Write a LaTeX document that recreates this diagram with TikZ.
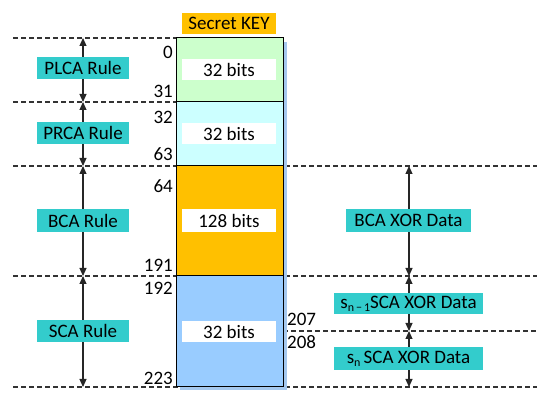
\documentclass[tikz,border=0pt]{standalone}
\usepackage{fontspec}
\setmainfont{Carlito}
\usetikzlibrary{arrows.meta}
\definecolor{teal1}{RGB}{51,204,204}
\definecolor{gold1}{RGB}{255,192,0}
\definecolor{green1}{RGB}{204,255,204}
\definecolor{cyan1}{RGB}{204,255,255}
\definecolor{blue1}{RGB}{153,204,255}
\definecolor{shadow1}{RGB}{165,200,238}
\newcommand{\fs}{\fontsize{19}{21}\selectfont}
\tikzset{
  lbl/.style={fill=teal1, draw=none, inner sep=0pt, minimum height=22pt, font=\fs},
  wbox/.style={fill=white, draw=none, inner sep=0pt, minimum width=94pt, minimum height=21pt, font=\fs},
  row/.style={draw=black, line width=1pt, minimum width=107pt, inner sep=0pt},
  num/.style={inner sep=0pt, font=\fs},
  dline/.style={dashed, dash pattern=on 4.5pt off 3.5pt, line width=1.2pt, black!80},
  darr/.style={{Triangle[width=7pt,length=8pt]}-{Triangle[width=7pt,length=8pt]}, line width=1.1pt, black!85},
}
\begin{document}
\begin{tikzpicture}[x=1pt,y=-1pt]
\useasboundingbox (0,0) rectangle (550,395);
% dashed guide lines
\coordinate (d0a) at (13,38);  \coordinate (d0b) at (176,38);
\coordinate (d1a) at (13,102); \coordinate (d1b) at (176,102);
\coordinate (d2a) at (13,166); \coordinate (d2b) at (537,166);
\coordinate (d3a) at (13,276); \coordinate (d3b) at (537,276);
\coordinate (d4a) at (13,387); \coordinate (d4b) at (537,387);
\coordinate (d5a) at (283,331); \coordinate (d5b) at (537,331);
\draw[dline] (d0a) -- (d0b);
\draw[dline] (d1a) -- (d1b);
\draw[dline] (d2a) -- (d2b);
\draw[dline] (d3a) -- (d3b);
\draw[dline] (d4a) -- (d4b);
\draw[dline] (d5a) -- (d5b);
% shadow
\fill[shadow1] (180,42) rectangle (286.5,390);
% key rows
\node[row, fill=green1, minimum height=64pt] (r1) at (229.5,70) {};
\node[row, fill=cyan1, minimum height=64pt] (r2) at (229.5,134) {};
\node[row, fill=gold1, minimum height=110pt] (r3) at (229.5,221) {};
\node[row, fill=blue1, minimum height=111pt] (r4) at (229.5,331.5) {};
\node[wbox] (b1) at (229,69.5) {32 bits};
\node[wbox] (b2) at (229,133.5) {32 bits};
\node[wbox, minimum height=23pt] (b3) at (229,220.5) {128 bits};
\node[wbox] (b4) at (229,331.5) {32 bits};
\node[fill=gold1, inner sep=0pt, minimum width=94pt, minimum height=21pt, font=\fs] (title) at (229,23.5) {Secret KEY};
% numbers
\node[num, anchor=east] (n0) at (173,52) {0};
\node[num, anchor=east] (n31) at (173,91.5) {31};
\node[num, anchor=east] (n32) at (173,117) {32};
\node[num, anchor=east] (n63) at (173,154.5) {63};
\node[num, anchor=east] (n64) at (173,186) {64};
\node[num, anchor=east] (n191) at (173,265) {191};
\node[num, anchor=east] (n192) at (173,288.5) {192};
\node[num, anchor=east] (n223) at (173,378) {223};
\node[num, anchor=west] (n207) at (287,319.5) {207};
\node[num, anchor=west] (n208) at (287,342) {208};
% left arrows
\coordinate (la0) at (83,38);
\coordinate (la1) at (83,102);
\coordinate (la2) at (83,166);
\coordinate (la3) at (83,276);
\coordinate (la4) at (83,387);
\draw[darr] (la0) -- (la1);
\draw[darr] (la1) -- (la2);
\draw[darr] (la2) -- (la3);
\draw[darr] (la3) -- (la4);
\node[lbl, minimum width=92pt] (plca) at (83,68) {PLCA Rule};
\node[lbl, minimum width=92pt] (prca) at (83,133) {PRCA Rule};
\node[lbl, minimum width=92pt, minimum height=23pt] (bca) at (83,220.5) {BCA Rule};
\node[lbl, minimum width=92pt] (sca) at (83,331) {SCA Rule};
% right arrows
\coordinate (ra0) at (409,166);
\coordinate (ra1) at (409,276);
\coordinate (ra2) at (409,331);
\coordinate (ra3) at (409,387);
\draw[darr] (ra0) -- (ra1);
\draw[darr] (ra1) -- (ra2);
\draw[darr] (ra2) -- (ra3);
\node[lbl, minimum width=125pt, minimum height=23pt] (bcax) at (408.5,220.5) {BCA XOR Data};
\node[lbl, minimum width=149pt, minimum height=21pt] (scax1) at (408.5,303.5) {s\raisebox{-0.35ex}{\fontsize{12}{13}\selectfont n\,−\,1}SCA XOR Data};
\node[lbl, minimum width=149pt, minimum height=23pt] (scax2) at (408.5,358.5) {s\raisebox{-0.35ex}{\fontsize{12}{13}\selectfont n}\,SCA XOR Data};
\end{tikzpicture}
\end{document}
